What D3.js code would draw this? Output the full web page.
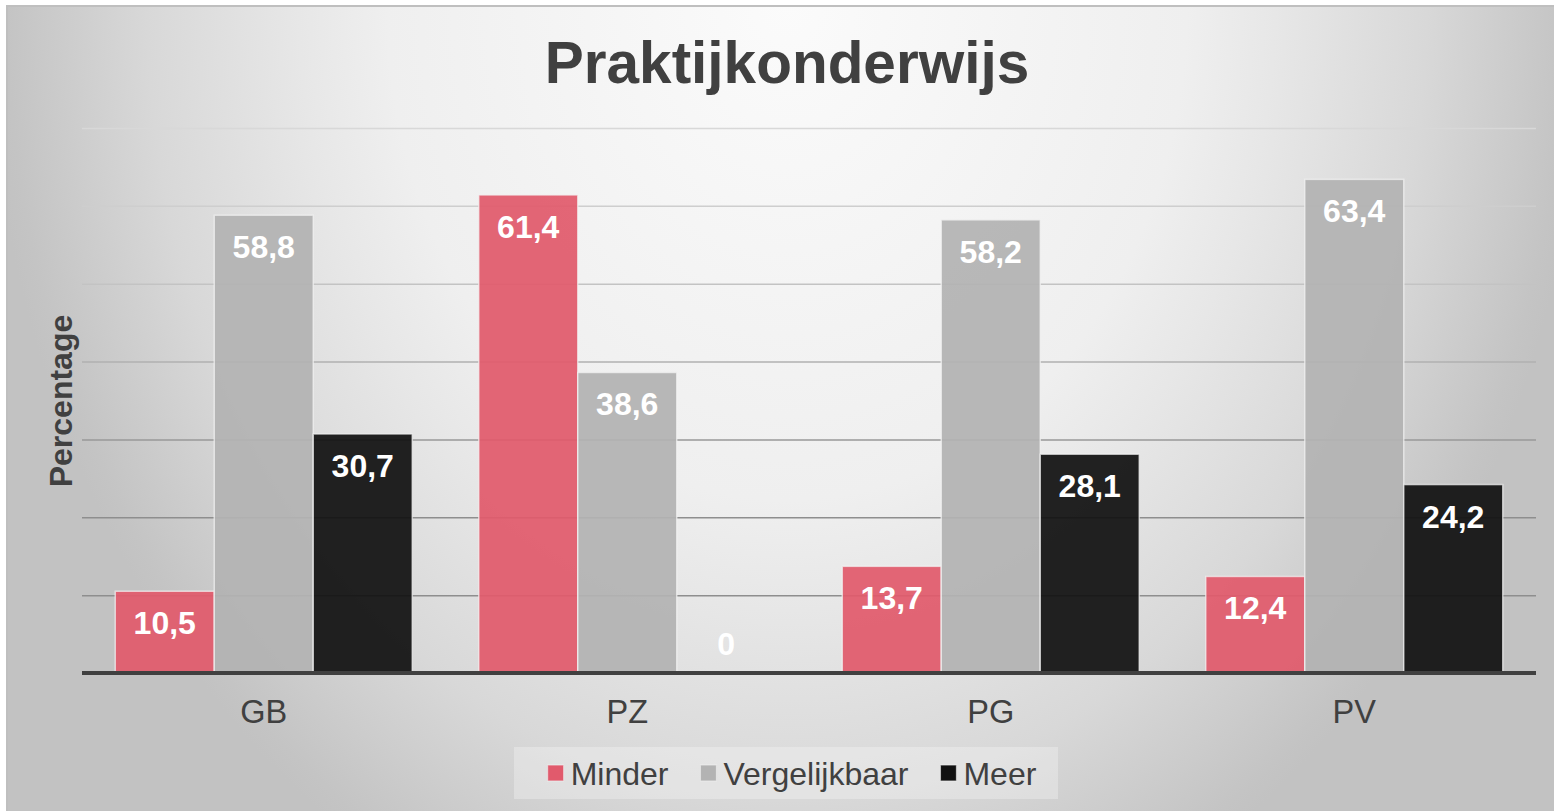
<!DOCTYPE html>
<html>
<head>
<meta charset="utf-8">
<script src="https://cdn.jsdelivr.net/npm/d3@7"></script>
<style>
  html, body { margin: 0; padding: 0; background: #ffffff; }
  svg { display: block; }
  text { font-family: "Liberation Sans", Arial, sans-serif; }
</style>
</head>
<body>
<svg id="chart" width="1554" height="811"></svg>
<script>
// ---- data ----
const title = "Praktijkonderwijs";
const yTitle = "Percentage";
const categories = ["GB", "PZ", "PG", "PV"];
const seriesNames = ["Minder", "Vergelijkbaar", "Meer"];
const minder = [10.5, 61.4, 13.7, 12.4];
const vergelijkbaar = [58.8, 38.6, 58.2, 63.4];
const meer = [30.7, 0, 28.1, 24.2];
const gridValues = [10, 20, 30, 40, 50, 60, 70];

// ---- styles ----
const seriesColors = ["#e15a6c", "#b3b3b3", "#111111"];
const W = 1554, H = 811;
const plot = { left: 82, right: 1536, top: 128, bottom: 673 };

const svg = d3.select("#chart");
const defs = svg.append("defs");

// background radial gradient
const bg = defs.append("radialGradient")
  .attr("id", "bg")
  .attr("gradientUnits", "userSpaceOnUse")
  .attr("cx", 787).attr("cy", 0).attr("r", 800)
  .attr("fx", 787).attr("fy", 0)
  .attr("gradientTransform", "scale(1,1.25)");
[[0, "#fbfbfb"], [0.5, "#efefef"], [0.61, "#e7e7e7"], [0.8, "#d8d8d8"], [0.975, "#c4c4c4"], [1, "#c2c2c2"]]
  .forEach(([o, c]) => bg.append("stop").attr("offset", o).attr("stop-color", c));

svg.append("rect")
  .attr("x", 7).attr("y", 6).attr("width", W).attr("height", H)
  .attr("fill", "url(#bg)")
  .attr("stroke", "#bfbfbf").attr("stroke-width", 2);

// scales
const yMax = 70;
const y = d3.scaleLinear().domain([0, yMax]).range([plot.bottom, plot.top]);
const x0 = d3.scaleBand().domain(categories).range([plot.left, plot.right]).padding(0);
const x1 = d3.scaleBand().domain(seriesNames).range([0, x0.bandwidth()])
  .paddingInner(0).paddingOuter(0.336);

// gridlines
const gridColor = d3.scaleLinear().domain([10, 20, 30, 40, 50, 60, 70])
  .range(["#8e8e8e", "#8e8e8e", "#999999", "#b0b0b0", "#c3c3c3", "#cecece", "#d8d8d8"]);
const yAxis = d3.axisLeft(y).tickValues(gridValues).tickSize(-(plot.right - plot.left)).tickFormat("");
const gGrid = svg.append("g").attr("transform", `translate(${plot.left},0)`).call(yAxis);
gGrid.select(".domain").remove();
gGrid.selectAll(".tick line")
  .attr("stroke", d => gridColor(d))
  .attr("stroke-width", 1.5);

// bars
const data = categories.map((c, i) => ({
  cat: c,
  values: [minder[i], vergelijkbaar[i], meer[i]]
}));

const groups = svg.append("g").selectAll("g")
  .data(data).join("g")
  .attr("transform", d => `translate(${x0(d.cat)},0)`);

groups.selectAll("rect")
  .data(d => d.values.map((v, j) => ({ s: seriesNames[j], v, j })))
  .join("rect")
  .attr("x", d => x1(d.s))
  .attr("width", x1.bandwidth())
  .attr("y", d => y(d.v))
  .attr("height", d => y(0) - y(d.v))
  .attr("fill", d => seriesColors[d.j])
  .attr("fill-opacity", 0.93)
  .attr("stroke", "#f4f4f4")
  .attr("stroke-opacity", d => d.v > 0 ? 0.7 : 0)
  .attr("stroke-width", 1.5);

// baseline (x axis)
const xAxis = d3.axisBottom(x0).tickSize(0).tickPadding(0);
const gX = svg.append("g").attr("transform", `translate(0,${y(0)})`).call(xAxis);
gX.select(".domain").attr("stroke", "#404040").attr("stroke-width", 4)
  .attr("d", `M${plot.left},0H${plot.right}`);
gX.selectAll(".tick text")
  .attr("y", 50).attr("dy", null)
  .attr("fill", "#404040")
  .style("font-size", "32.5px")
  .style("font-family", "'Liberation Sans', Arial, sans-serif");

// data labels
const fmt = v => String(v).replace(".", ",");
groups.selectAll("text.lbl")
  .data(d => d.values.map((v, j) => ({ s: seriesNames[j], v, j })))
  .join("text")
  .attr("class", "lbl")
  .attr("x", d => x1(d.s) + x1.bandwidth() / 2)
  .attr("y", d => d.v > 0 ? y(d.v) + 43 : y(0) - 18)
  .attr("text-anchor", "middle")
  .attr("fill", "#ffffff")
  .style("font-size", "32px")
  .style("font-weight", "bold")
  .text(d => fmt(d.v));

// title
svg.append("text")
  .attr("x", 787).attr("y", 83)
  .attr("text-anchor", "middle")
  .attr("fill", "#404040")
  .style("font-size", "58.5px").style("font-weight", "bold")
  .text(title);

// y title
svg.append("text")
  .attr("transform", "translate(72,401) rotate(-90)")
  .attr("text-anchor", "middle")
  .attr("fill", "#404040")
  .style("font-size", "32px").style("font-weight", "bold")
  .text(yTitle);

// legend
const legend = { cx: 792, top: 747, h: 52, sq: 16, gap: 32, textOff: 23 };
const lgBox = svg.append("rect")
  .attr("fill", "#ffffff").attr("fill-opacity", 0.28);
const lg = svg.append("g");
let cursor = 0;
seriesNames.forEach((name, j) => {
  const g = lg.append("g").attr("transform", `translate(${cursor},0)`);
  g.append("rect")
    .attr("x", 0).attr("y", -legend.sq / 2)
    .attr("width", legend.sq).attr("height", legend.sq)
    .attr("fill", seriesColors[j])
    .attr("stroke", "#f0f0f0").attr("stroke-opacity", 0.6).attr("stroke-width", 1.2);
  const t = g.append("text")
    .attr("x", legend.textOff).attr("y", 11.5)
    .attr("fill", "#404040")
    .style("font-size", "32px")
    .text(name);
  const w = legend.textOff + t.node().getComputedTextLength();
  cursor += w + legend.gap;
});
const totalW = cursor - legend.gap;
const startX = legend.cx - totalW / 2;
lg.attr("transform", `translate(${startX},${legend.top + legend.h / 2})`);
lgBox.attr("x", 514).attr("y", legend.top)
  .attr("width", 544).attr("height", legend.h);
</script>
</body>
</html>
